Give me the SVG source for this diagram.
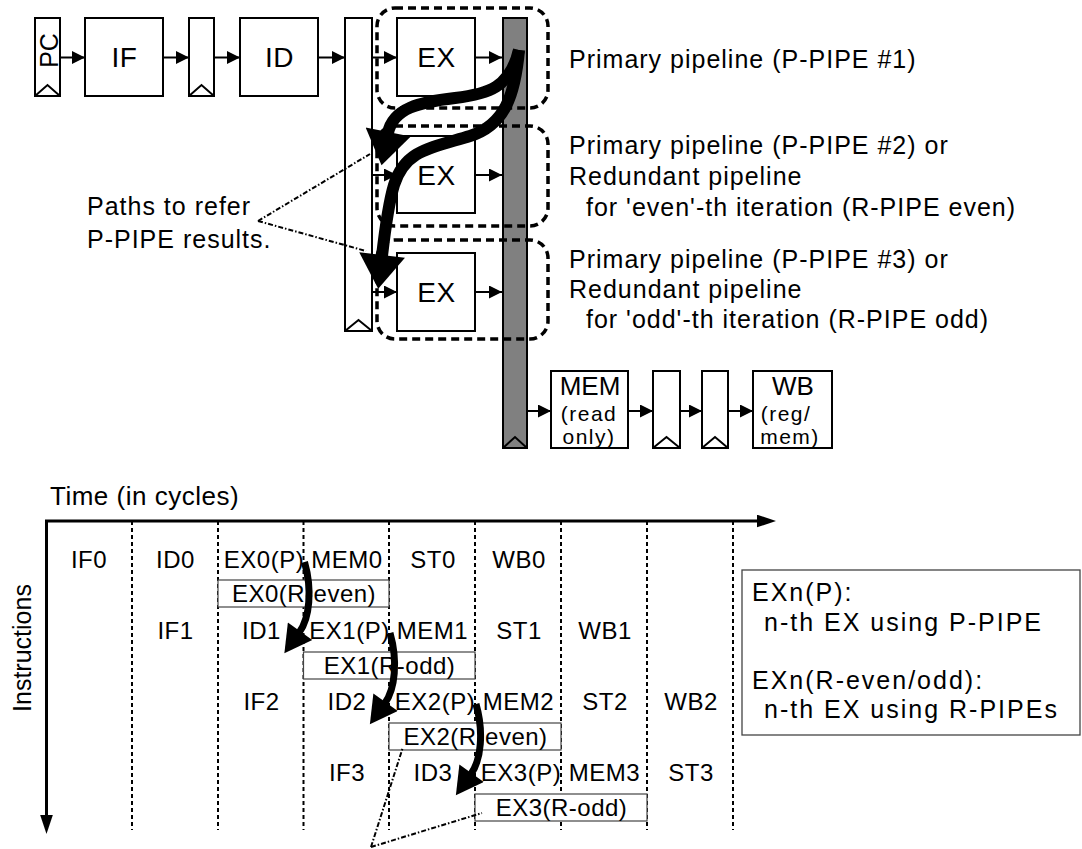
<svg xmlns="http://www.w3.org/2000/svg" width="1082" height="849" viewBox="0 0 1082 849">
<style>
text{font-family:'Liberation Sans',Arial,Helvetica,sans-serif;fill:#000}
.box{fill:#fff;stroke:#000;stroke-width:2}
.reg{fill:#fff;stroke:#000;stroke-width:2}
.gray{fill:#808080;stroke:#000;stroke-width:2}
.clk{fill:none;stroke:#000;stroke-width:2;stroke-linejoin:miter}
.dash{fill:none;stroke:#000;stroke-width:3.5;stroke-dasharray:8 5}
.lbl{font-size:28px;letter-spacing:0.5px;text-anchor:middle}
.sm{font-size:21px;letter-spacing:1.5px;text-anchor:middle}
.big{font-size:25px;letter-spacing:1px}
.cell{font-size:24px;letter-spacing:0.5px;text-anchor:middle}
.leg{font-size:25px;letter-spacing:2px}
.ln{fill:none;stroke:#000;stroke-width:2}
.vdash{fill:none;stroke:#000;stroke-width:2;stroke-dasharray:4 3}
.dot{fill:none;stroke:#000;stroke-width:2;stroke-dasharray:5 2 1.5 2}
.rbox{fill:#fff;stroke:#444;stroke-width:1.2}
.fat{fill:none;stroke:#000;stroke-width:12}
.mid{fill:none;stroke:#000;stroke-width:7}
.axis{fill:none;stroke:#000;stroke-width:3}
</style>
<defs>
<marker id="arr" markerUnits="userSpaceOnUse" markerWidth="13" markerHeight="13" viewBox="0 0 12 12" refX="12" refY="6" orient="auto"><path d="M0,0 L12,6 L0,12 z" fill="#000"/></marker>
<marker id="bigHead" markerUnits="userSpaceOnUse" markerWidth="35" markerHeight="46" viewBox="0 0 34 46" refX="1" refY="23" orient="auto"><path d="M0,0 L34,23 L0,46 z" fill="#000"/></marker>
<marker id="midHead" markerUnits="userSpaceOnUse" markerWidth="28" markerHeight="30" viewBox="0 0 27 30" refX="1" refY="15" orient="auto"><path d="M0,0 L27,15 L0,30 z" fill="#000"/></marker>
<marker id="axHead" markerUnits="userSpaceOnUse" markerWidth="19" markerHeight="13" viewBox="0 0 18 12" refX="0" refY="6" orient="auto"><path d="M0,0 L18,6 L0,12 z" fill="#000"/></marker>
</defs>

<!-- Pipeline nodes -->
<g id="pc">
<rect class="reg" x="35" y="18" width="25" height="78"/>
<polyline class="clk" points="35,96 47.5,85 60,96"/>
<text class="lbl" transform="translate(58,50.5) rotate(-90)" style="font-size:25px;letter-spacing:0">PC</text>
</g>
<g id="if">
<rect class="box" x="85" y="18" width="78" height="78"/>
<text class="lbl" x="124.5" y="67">IF</text>
</g>
<g id="reg-ifid">
<rect class="reg" x="189" y="18" width="25" height="78"/>
<polyline class="clk" points="189,96 201.5,85 214,96"/>
</g>
<g id="id">
<rect class="box" x="240" y="18" width="78" height="78"/>
<text class="lbl" x="279.5" y="67">ID</text>
</g>
<g id="reg-idex">
<rect class="reg" x="345" y="18" width="27" height="313"/>
<polyline class="clk" points="345,331 358.5,320 372,331"/>
</g>
<g id="ex1">
<rect class="box" x="397" y="18" width="78" height="78"/>
<text class="lbl" x="436.5" y="67">EX</text>
</g>
<g id="ex2">
<rect class="box" x="397" y="136" width="78" height="77"/>
<text class="lbl" x="436.5" y="184.5">EX</text>
</g>
<g id="ex3">
<rect class="box" x="397" y="253" width="78" height="78"/>
<text class="lbl" x="436.5" y="302">EX</text>
</g>
<g id="reg-exmem">
<rect class="gray" x="503" y="18" width="24" height="430"/>
<polyline class="clk" points="503,448 515,437 527,448"/>
</g>
<g id="mem">
<rect class="box" x="551" y="371" width="77" height="77"/>
<text class="lbl" x="590" y="395" style="font-size:26px;letter-spacing:0">MEM</text>
<text class="sm" x="589" y="421">(read</text>
<text class="sm" x="589" y="444">only)</text>
</g>
<g id="reg-m1">
<rect class="reg" x="653" y="371" width="27" height="77"/>
<polyline class="clk" points="653,448 666.5,437 680,448"/>
</g>
<g id="reg-m2">
<rect class="reg" x="702" y="371" width="26" height="77"/>
<polyline class="clk" points="702,448 715,437 728,448"/>
</g>
<g id="wb">
<rect class="box" x="753" y="371" width="79" height="77"/>
<text class="lbl" x="793" y="395" style="font-size:26px;letter-spacing:0">WB</text>
<text class="sm" x="786" y="421">(reg/</text>
<text class="sm" x="790" y="444">mem)</text>
</g>

<!-- Dashed pipeline groups -->
<g id="pipe-groups">
<rect class="dash" x="377" y="8" width="171" height="100" rx="18"/>
<rect class="dash" x="377" y="126" width="171" height="100" rx="18"/>
<rect class="dash" x="377" y="240" width="171" height="99" rx="18"/>
</g>

<!-- Pipeline connectors -->
<g id="pipe-connectors">
<path class="ln" d="M60,57.5 H85" marker-end="url(#arr)"/>
<path class="ln" d="M163,57.5 H189" marker-end="url(#arr)"/>
<path class="ln" d="M214,57.5 H240" marker-end="url(#arr)"/>
<path class="ln" d="M318,57.5 H345" marker-end="url(#arr)"/>
<path class="ln" d="M372,57.5 H397" marker-end="url(#arr)"/>
<path class="ln" d="M372,175 H397" marker-end="url(#arr)"/>
<path class="ln" d="M372,292 H397" marker-end="url(#arr)"/>
<path class="ln" d="M475,57.5 H502" marker-end="url(#arr)"/>
<path class="ln" d="M475,175 H502" marker-end="url(#arr)"/>
<path class="ln" d="M475,292 H502" marker-end="url(#arr)"/>
<path class="ln" d="M528,411 H551" marker-end="url(#arr)"/>
<path class="ln" d="M628,411 H653" marker-end="url(#arr)"/>
<path class="ln" d="M680,411 H702" marker-end="url(#arr)"/>
<path class="ln" d="M728,411 H753" marker-end="url(#arr)"/>
<path class="fat" d="M519,50 C510,88 488,94 455,98 C420,102 393,108 388,133" marker-end="url(#bigHead)"/>
<path class="fat" d="M519,50 C515,95 505,125 470,136 C430,148 405,150 394,185 C388,205 385,230 382,256" marker-end="url(#bigHead)"/>
<path class="dot" d="M258,221 L370,154"/>
<path class="dot" d="M258,221 L366,251"/>
</g>

<!-- Pipeline labels -->
<g id="pipe-labels">
<text class="big" x="569" y="68">Primary pipeline (P-PIPE #1)</text>
<text class="big" x="569" y="154">Primary pipeline (P-PIPE #2) or</text>
<text class="big" x="569" y="185">Redundant pipeline</text>
<text class="big" x="586" y="216">for 'even'-th iteration (R-PIPE even)</text>
<text class="big" x="569" y="268">Primary pipeline (P-PIPE #3) or</text>
<text class="big" x="569" y="298">Redundant pipeline</text>
<text class="big" x="586" y="328">for 'odd'-th iteration (R-PIPE odd)</text>
<text class="big" x="87" y="215">Paths to refer</text>
<text class="big" x="87" y="248">P-PIPE results.</text>
</g>

<!-- Timeline -->
<g id="timeline-grid">
<path class="vdash" d="M132,521 V830 M218,521 V830 M303.5,521 V830 M389,521 V830 M475,521 V830 M561,521 V830 M647,521 V830 M733,521 V830"/>
</g>
<g id="axes">
<path class="axis" d="M45,521 H757" marker-end="url(#axHead)"/>
<path class="axis" d="M46.5,520 V815" marker-end="url(#axHead)"/>
<text class="big" x="50" y="505" style="font-size:26px;letter-spacing:0.5px">Time (in cycles)</text>
<text class="big" transform="translate(31,648) rotate(-90)" text-anchor="middle" style="letter-spacing:0">Instructions</text>
</g>

<g id="row0">
<text class="cell" x="89" y="568">IF0</text>
<text class="cell" x="175.5" y="568">ID0</text>
<text class="cell" x="264" y="568">EX0(P)</text>
<text class="cell" x="347" y="568">MEM0</text>
<text class="cell" x="433" y="568">ST0</text>
<text class="cell" x="519" y="568">WB0</text>
<rect class="rbox" x="218" y="580" width="171" height="27"/>
<text class="cell" x="304" y="602">EX0(R-even)</text>
</g>
<g id="row1">
<text class="cell" x="175.5" y="639">IF1</text>
<text class="cell" x="261.5" y="639">ID1</text>
<text class="cell" x="349.5" y="639">EX1(P)</text>
<text class="cell" x="432.5" y="639">MEM1</text>
<text class="cell" x="519" y="639">ST1</text>
<text class="cell" x="605" y="639">WB1</text>
<rect class="rbox" x="303.5" y="652" width="171.5" height="27"/>
<text class="cell" x="389.5" y="674">EX1(R-odd)</text>
</g>
<g id="row2">
<text class="cell" x="261.5" y="710">IF2</text>
<text class="cell" x="347" y="710">ID2</text>
<text class="cell" x="435" y="710">EX2(P)</text>
<text class="cell" x="518.5" y="710">MEM2</text>
<text class="cell" x="605" y="710">ST2</text>
<text class="cell" x="691" y="710">WB2</text>
<rect class="rbox" x="389" y="723" width="172" height="27"/>
<text class="cell" x="475.5" y="745">EX2(R-even)</text>
</g>
<g id="row3">
<text class="cell" x="347" y="781">IF3</text>
<text class="cell" x="433" y="781">ID3</text>
<text class="cell" x="521" y="781">EX3(P)</text>
<text class="cell" x="604.5" y="781">MEM3</text>
<text class="cell" x="691" y="781">ST3</text>
<rect class="rbox" x="475" y="794" width="172" height="27"/>
<text class="cell" x="561.5" y="816">EX3(R-odd)</text>
</g>

<g id="legend">
<rect class="rbox" x="742" y="570" width="338" height="165" style="stroke-width:1.3"/>
<text class="leg" x="752" y="601">EXn(P):</text>
<text class="leg" x="764" y="631">n-th EX using P-PIPE</text>
<text class="leg" x="752" y="689">EXn(R-even/odd):</text>
<text class="leg" x="764" y="718">n-th EX using R-PIPEs</text>
</g>

<g id="timeline-connectors">
<path class="mid" d="M304.5,562 C312.5,590 309.5,618 299.5,632" marker-end="url(#midHead)"/>
<path class="mid" d="M390,633 C398,661 395,689 385,703" marker-end="url(#midHead)"/>
<path class="mid" d="M476,704 C484,732 481,760 471,774" marker-end="url(#midHead)"/>
<path class="dot" d="M371,847 L403,747"/>
<path class="dot" d="M371,847 L482,813"/>
</g>
</svg>
